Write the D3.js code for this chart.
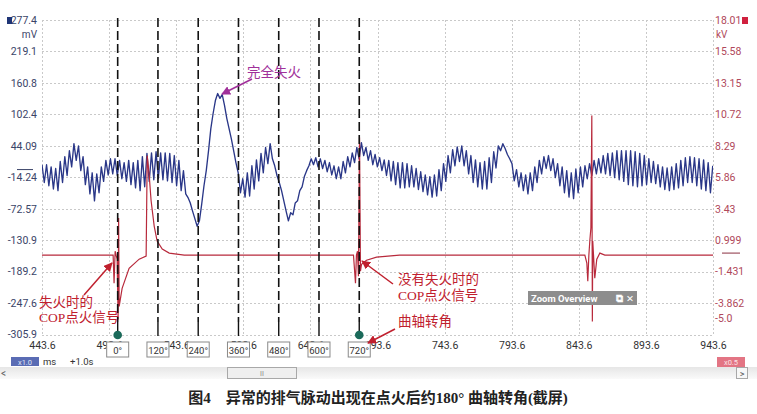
<!DOCTYPE html>
<html><head><meta charset="utf-8">
<script src="https://cdnjs.cloudflare.com/ajax/libs/d3/7.8.5/d3.min.js"></script>
<style>body{margin:0;background:#fff}svg{display:block}</style>
</head><body><svg id="c" width="757" height="414"></svg>
<script>
// ---- data ----
const t0 = 443.6, dt = 1.7; // ms, sample start and interval of the mV channel
const blueMv = [9,-24,9,-30,5,-36,2,-39,15,-24, 24,-11,35,5,48,17,44,-2,24,-28,
 5,-45,-6,-58,-8,-43,5,-22,17,-10, 20,-8,20,-11,17,-17,13,-22,17,-28,
 13,-34,17,-39,24,-32,30,-22,31,-19, 33,-17,31,-19,31,-21,30,-24,26,-30,
 17,-39,-2,-45,-52,-62,-77,-91,-105,-95, -64,-30,-2,35,76,104,128,141,132,139,
 119,95,76,57,35,13,-6,-43,-17,-51, -6,-49,7,-36,18,-21,30,-6,41,11,
 48,20,7,-11,-24,-39,-58,-77,-95,-80, -84,-62,-58,-39,-32,-13,-2,7,20,9,
 22,5,20,2,17,-4,13,-10,7,-17, 5,-17,15,-6,24,5,31,13,41,20,
 50,26,41,17,35,9,28,5,22,-2, 18,-11,17,-21,15,-28,13,-34,13,-34,
 11,-32,7,-32,2,-37,-4,-41,-10,-47, -13,-51,-10,-49,0,-39,11,-22,26,-6,
 37,7,42,15,44,7,35,-8,26,-24, 18,-32,13,-36,15,-36,22,-24,33,3,
 44,35,48,39,28,20,11,-21,0,-32, -6,-39,-10,-45,-6,-39,5,-24,17,-8,
 24,2,26,-2,20,-15,11,-30,5,-43, -2,-51,-6,-54,1,-43,5,-32,7,-17,
 11,-11,17,-8,20,-6,26,-8,30,-11, 31,-15,35,-19,35,-22,35,-28,35,-30,
 33,-32,30,-30,26,-28,20,-24,15,-26, 9,-32,5,-37,3,-39,5,-37,11,-34,
 17,-30,22,-24,24,-24,22,-30,20,-36, 18,-39,13,-43,7];
const redT = [443.6,496.6,497.3,498.1,498.8,499.6,500.3,500.7,501.1,503.3,508.5,516.0,521.2,522.0,523.5,524.9,527.2,529.4,533.2,538.4,549.6,
 675.7,677.2,677.9,678.7,679.4,680.2,680.9,681.7,685.4,692.9,710.0,
 848.1,849.6,850.3,851.1,851.8,852.6,853.3,853.7,854.0,855.5,857.0,859.3,863.0,943.6];
const redKv = [-0.16,-0.16,-2.33,0.15,-0.16,-0.47,-5.13,2.72,-4.12,-2.72,-1.17,-0.47,-0.23,7.53,5.98,4.04,2.09,0.93,0.31,0.0,-0.16,
 -0.16,-2.33,-0.16,0.15,-1.79,8.93,-1.40,-0.86,-0.55,-0.31,-0.16,
 -0.16,-0.78,-2.18,-0.16,0.93,1.94,10.63,-5.28,0.93,-1.94,-0.47,0.0,-0.16,-0.16];
const xTicks = [443.6,493.6,543.6,593.6,643.6,693.6,743.6,793.6,843.6,893.6,943.6];
const xTickLabels = ["443.6","493.6","543.6","593.6","643.6","693.6","743.6","793.6","843.6","893.6","943.6"];
const leftTicks = [277.4,219.1,160.8,102.4,44.09,-14.24,-72.57,-130.9,-189.2,-247.6,-305.9];
const leftLabels = ["277.4","219.1","160.8","102.4","44.09","-14.24","-72.57","-130.9","-189.2","-247.6","-305.9"];
const rightTicks = [18.01,15.58,13.15,10.72,8.29,5.86,3.43,0.999,-1.431,-3.862,-5.0];
const rightLabels = ["18.01","15.58","13.15","10.72","8.29","5.86","3.43","0.999","-1.431","-3.862","-5.0"];
const angleT = [500,530,560,590,620,650,680];
const angleLabels = ["0°","120°","240°","360°","480°","600°","720°"];
const markedAngles = ["0°","720°"];
const caption = "图4　异常的排气脉动出现在点火后约180° 曲轴转角(截屏)";

// ---- scales ----
const L = 42, R = 713, T = 20, B = 334.5;
const x = d3.scaleLinear().domain([443.6, 943.6]).range([L, R]);
const yL = d3.scaleLinear().domain([-305.9, 277.4]).range([B, T]);
const yR = d3.scaleLinear().domain([-6.29, 18.01]).range([B, T]);

const svg = d3.select("#c");
const defs = svg.append("defs");
defs.append("clipPath").attr("id","clip").append("rect").attr("x",L).attr("y",T-2).attr("width",R-L).attr("height",B-T+4);
function marker(id, color){
  defs.append("marker").attr("id",id).attr("viewBox","0 0 10 10").attr("refX",9).attr("refY",5)
   .attr("markerWidth",9).attr("markerHeight",9).attr("markerUnits","userSpaceOnUse").attr("orient","auto")
   .append("path").attr("d","M0,0 L10,5 L0,10 z").attr("fill",color);
}
marker("aRed","#c0202e"); marker("aPur","#a0309a");

// grid
const grid = svg.append("g").attr("stroke","#c9c9c9").attr("stroke-dasharray","2,2").attr("stroke-width",1);
grid.selectAll("line.h").data(leftTicks).join("line").attr("x1",L).attr("x2",R)
  .attr("y1",d=>Math.round(yL(d))+0.5).attr("y2",d=>Math.round(yL(d))+0.5);
grid.selectAll("line.v").data(xTicks).join("line").attr("y1",T).attr("y2",B)
  .attr("x1",d=>Math.round(x(d))+0.5).attr("x2",d=>Math.round(x(d))+0.5);

const plot = svg.append("g").attr("clip-path","url(#clip)");
// blue channel
plot.append("path").datum(blueMv)
  .attr("d", d3.line().x((d,i)=>x(t0+i*dt)).y(d=>yL(d)))
  .attr("fill","none").attr("stroke","#2a3788").attr("stroke-width",1.35).attr("stroke-linejoin","round");
// red channel
plot.append("path").datum(redT.map((t,i)=>[t,redKv[i]]))
  .attr("d", d3.line().x(d=>x(d[0])).y(d=>yR(d[1])))
  .attr("fill","none").attr("stroke","#b82a3c").attr("stroke-width",1.2);

// angle dashed lines
const ang = svg.append("g");
ang.selectAll("line.d").data(angleT).join("line")
  .attr("x1",d=>x(d)).attr("x2",d=>x(d)).attr("y1",T-2).attr("y2",322)
  .attr("stroke","#111").attr("stroke-width",1.6).attr("stroke-dasharray","9,4");
ang.selectAll("line.s").data(angleT).join("line")
  .attr("x1",d=>x(d)).attr("x2",d=>x(d)).attr("y1",322).attr("y2",336)
  .attr("stroke","#111").attr("stroke-width",1.4);

// axes
const fontUI = "Roboto,'Open Sans','DejaVu Sans',sans-serif";
const ax = d3.axisLeft(yL).tickValues(leftTicks).tickFormat((d,i)=>leftLabels[i]).tickSize(0).tickPadding(4);
const gL = svg.append("g").attr("transform",`translate(${L-1},0)`).call(ax);
gL.select(".domain").remove();
gL.selectAll("text").attr("font-family",fontUI).attr("font-size",10.5).attr("fill","#3a4468");
const axr = d3.axisRight(yR).tickValues(rightTicks).tickFormat((d,i)=>rightLabels[i]).tickSize(0).tickPadding(2);
const gR = svg.append("g").attr("transform",`translate(${R},0)`).call(axr);
gR.select(".domain").remove();
gR.selectAll("text").attr("font-family",fontUI).attr("font-size",10.5).attr("fill","#b0485a");
const axb = d3.axisBottom(x).tickValues(xTicks).tickFormat((d,i)=>xTickLabels[i]).tickSize(0).tickPadding(7);
const gB = svg.append("g").attr("transform",`translate(0,${B})`).call(axb);
gB.select(".domain").remove();
gB.selectAll("text").attr("font-family",fontUI).attr("font-size",10.5).attr("fill","#333");

// units & channel markers
svg.append("rect").attr("x",7).attr("y",17).attr("width",5).attr("height",7).attr("fill","#1f3576");
svg.append("text").attr("x",37).attr("y",38).attr("text-anchor","end").attr("font-family",fontUI).attr("font-size",10).attr("fill","#3a4468").text("mV");
svg.append("rect").attr("x",742).attr("y",17).attr("width",6).attr("height",7).attr("fill","#d0203e");
svg.append("text").attr("x",716).attr("y",38).attr("font-family",fontUI).attr("font-size",10).attr("fill","#b0485a").text("kV");
svg.append("line").attr("x1",17).attr("x2",33).attr("y1",yL(0)).attr("y2",yL(0)).attr("stroke","#3a4468").attr("stroke-width",1);
svg.append("line").attr("x1",722).attr("x2",740).attr("y1",yR(0)).attr("y2",yR(0)).attr("stroke","#8a3040").attr("stroke-width",1);

// angle label boxes and dots
const ab = svg.append("g").selectAll("g").data(angleT).join("g").attr("transform",d=>`translate(${x(d)},0)`);
ab.append("rect").attr("x",-11).attr("y",342).attr("width",22).attr("height",15).attr("fill","#fff").attr("stroke","#8a8a8a").attr("stroke-width",1);
ab.append("text").attr("y",353.5).attr("text-anchor","middle").attr("font-family",fontUI).attr("font-size",9.5).attr("fill","#333").text((d,i)=>angleLabels[i]);
svg.append("g").selectAll("circle").data(angleT.filter((d,i)=>markedAngles.includes(angleLabels[i]))).join("circle")
  .attr("cx",d=>x(d)).attr("cy",335).attr("r",4.3).attr("fill","#1b6a5a");

// annotations
const fCN = "'Liberation Serif','Noto Sans CJK SC',serif";
svg.append("text").attr("x",247).attr("y",77).attr("font-family",fCN).attr("font-size",13.5).attr("fill","#a0309a").text("完全失火");
svg.append("line").attr("x1",252).attr("y1",79).attr("x2",222).attr("y2",94).attr("stroke","#a0309a").attr("stroke-width",1.6).attr("marker-end","url(#aPur)");

const red = "#c0202e";
svg.append("text").attr("x",39).attr("y",307).attr("font-family",fCN).attr("font-size",13.5).attr("fill",red).text("失火时的");
svg.append("text").attr("x",39).attr("y",322).attr("font-family",fCN).attr("font-size",13.5).attr("fill",red).text("COP点火信号");
svg.append("line").attr("x1",84).attr("y1",295).attr("x2",112).attr("y2",263).attr("stroke",red).attr("stroke-width",1.5).attr("marker-end","url(#aRed)");

svg.append("text").attr("x",398).attr("y",284).attr("font-family",fCN).attr("font-size",13.5).attr("fill",red).text("没有失火时的");
svg.append("text").attr("x",398).attr("y",300).attr("font-family",fCN).attr("font-size",13.5).attr("fill",red).text("COP点火信号");
svg.append("line").attr("x1",393).attr("y1",284).attr("x2",362).attr("y2",261).attr("stroke",red).attr("stroke-width",1.5).attr("marker-end","url(#aRed)");

svg.append("text").attr("x",398).attr("y",326).attr("font-family",fCN).attr("font-size",13.5).attr("fill",red).text("曲轴转角");
svg.append("line").attr("x1",395).attr("y1",329).attr("x2",368).attr("y2",343).attr("stroke",red).attr("stroke-width",1.5).attr("marker-end","url(#aRed)");

// zoom overview widget
svg.append("rect").attr("x",528).attr("y",291).attr("width",109).attr("height",14).attr("fill","#8d8d8d");
svg.append("text").attr("x",531).attr("y",302).attr("font-family",fontUI).attr("font-size",9.5).attr("font-weight","bold").attr("fill","#fff").text("Zoom Overview");
svg.append("text").attr("x",634).attr("y",302).attr("text-anchor","end").attr("font-family","'DejaVu Sans',sans-serif").attr("font-size",9.5).attr("font-weight","bold").attr("fill","#fff").text("⧉ ✕");

// bottom bar
svg.append("rect").attr("x",11).attr("y",357).attr("width",28).attr("height",9).attr("fill","#5a6cb4");
svg.append("text").attr("x",25).attr("y",364.5).attr("text-anchor","middle").attr("font-family",fontUI).attr("font-size",7.5).attr("fill","#dfe4f5").text("x1.0");
svg.append("text").attr("x",43).attr("y",365).attr("font-family",fontUI).attr("font-size",9.5).attr("fill","#333").text("ms");
svg.append("text").attr("x",70).attr("y",365).attr("font-family",fontUI).attr("font-size",9.5).attr("fill","#333").text("+1.0s");
svg.append("rect").attr("x",717).attr("y",357).attr("width",28).attr("height",10).attr("fill","#e37584");
svg.append("text").attr("x",731).attr("y",365).attr("text-anchor","middle").attr("font-family",fontUI).attr("font-size",7.5).attr("fill","#fbe3e6").text("x0.5");

const sg = svg.append("linearGradient").attr("id","sb").attr("x1",0).attr("x2",0).attr("y1",0).attr("y2",1);
sg.append("stop").attr("offset","0").attr("stop-color","#e6e6e6");
sg.append("stop").attr("offset","1").attr("stop-color","#fafafa");
svg.append("rect").attr("x",0).attr("y",367).attr("width",757).attr("height",12).attr("fill","url(#sb)");
svg.append("text").attr("x",1).attr("y",377).attr("font-family",fontUI).attr("font-size",10).attr("fill","#666").text("<");
svg.append("rect").attr("x",227.5).attr("y",367.5).attr("width",69).attr("height",11).attr("fill","#efefef").attr("stroke","#a8a8a8");
svg.append("text").attr("x",262).attr("y",376).attr("text-anchor","middle").attr("font-family",fontUI).attr("font-size",7).attr("fill","#888").text("II");
svg.append("rect").attr("x",736.5).attr("y",367.5).attr("width",11).attr("height",11).attr("fill","#f7f7f7").attr("stroke","#a8a8a8");
svg.append("text").attr("x",742).attr("y",376.5).attr("text-anchor","middle").attr("font-family",fontUI).attr("font-size",9).attr("fill","#555").text(">");

// caption
svg.append("text").attr("x",378).attr("y",403).attr("text-anchor","middle")
  .attr("font-family","'Liberation Serif','Noto Sans CJK SC',serif").attr("font-size",15).attr("font-weight","bold").attr("fill","#222").text(caption);
</script></body></html>
